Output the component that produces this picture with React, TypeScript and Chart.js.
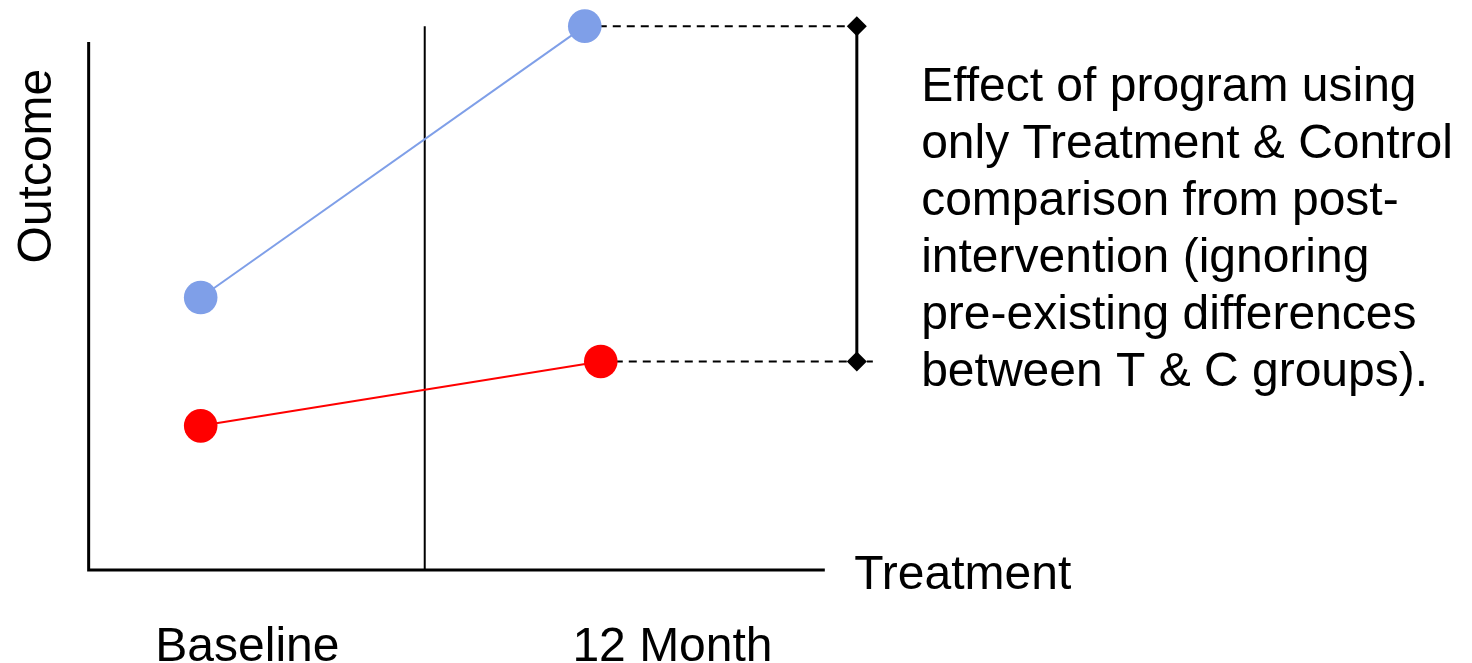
import React, { useEffect, useRef } from "react";
import { Chart, registerables } from "chart.js";

Chart.register(...registerables);

// ---- data ----
const CATEGORIES = ["Baseline", "12 Month"];
const CATEGORY_LABEL_X = [1.46, 14.74];
const TREATMENT_X = [0, 12];
const TREATMENT_Y = [5.16, 10.3];
const CONTROL_X = [0, 12.5];
const CONTROL_Y = [2.73, 3.95];
const Y_TITLE = "Outcome";
const X_TITLE = "Treatment";
const NOTE_LINES = [
  "Effect of program using",
  "only Treatment & Control",
  "comparison from post-",
  "intervention (ignoring",
  "pre-existing differences",
  "between T & C groups).",
];

// ---- layout (data units) ----
const X_MIN = -6.27;
const X_MAX = 39.72;
const Y_MIN = -1.761;
const Y_MAX = 10.795;
const AXIS_X = -3.5;
const AXIS_X_END = 19.5;
const AXIS_Y_TOP = 10;
const DIVIDER_X = 7;
const BRACKET_X = 20.5;
const BLUE_DASH_END = 20.5;
const RED_DASH_END = 21.0;

const FONT = '"Liberation Sans", Arial, Helvetica, sans-serif';
const BLUE = "#7f9fe8";
const RED = "#ff0000";

const textPlugin = {
  id: "textLabels",
  afterDraw(chart: any) {
    const ctx = chart.ctx;
    const xs = chart.scales.x;
    const ys = chart.scales.y;
    const px = (v: number) => xs.getPixelForValue(v);
    const py = (v: number) => ys.getPixelForValue(v);
    const drawText = (t: string, x: number, y: number, align: string) => {
      ctx.textAlign = align;
      ctx.textBaseline = "alphabetic";
      ctx.fillText(t, x, y);
    };
    ctx.save();
    ctx.fillStyle = "#000";
    ctx.font = `48px ${FONT}`;
    CATEGORIES.forEach((c, i) => drawText(c, px(CATEGORY_LABEL_X[i]), py(-1.72), "center"));
    drawText(X_TITLE, px(20.42), py(-0.36), "left");
    const y0 = py(8.883);
    NOTE_LINES.forEach((l, i) => drawText(l, px(22.51), y0 + i * 57, "left"));
    ctx.save();
    ctx.font = `48px ${FONT}`;
    ctx.translate(px(-4.68), py(7.65));
    ctx.rotate(-Math.PI / 2);
    ctx.textAlign = "center";
    ctx.textBaseline = "alphabetic";
    ctx.fillText(Y_TITLE, 0, 0);
    ctx.restore();
    ctx.restore();
  },
};

function pts(xs: number[], ys: number[]) {
  return xs.map((x, i) => ({ x, y: ys[i] }));
}

export default function App() {
  const ref = useRef<HTMLCanvasElement | null>(null);
  useEffect(() => {
    if (!ref.current) return;
    const line = (data: any[], color: string, width: number, extra: any = {}) => ({
      data,
      showLine: true,
      borderColor: color,
      backgroundColor: color,
      borderWidth: width,
      pointRadius: 0,
      pointHoverRadius: 0,
      tension: 0,
      clip: false,
      ...extra,
    });
    const chart = new Chart(ref.current, {
      type: "scatter",
      data: {
        datasets: [
          line(pts(TREATMENT_X, TREATMENT_Y), BLUE, 2, {
            label: "Treatment",
            pointRadius: 16.8,
            pointBorderWidth: 0,
            pointBackgroundColor: BLUE,
          }),
          line(pts(CONTROL_X, CONTROL_Y), RED, 2, {
            label: "Control",
            pointRadius: 16.8,
            pointBorderWidth: 0,
            pointBackgroundColor: RED,
          }),
          line(
            [
              { x: BRACKET_X, y: CONTROL_Y[1] },
              { x: BRACKET_X, y: TREATMENT_Y[1] },
            ],
            "#000",
            3,
            { label: "Effect", pointStyle: "rectRot", pointRadius: 10, pointBorderWidth: 0, pointBackgroundColor: "#000" }
          ),
          line(
            [
              { x: TREATMENT_X[1], y: TREATMENT_Y[1] },
              { x: BLUE_DASH_END, y: TREATMENT_Y[1] },
            ],
            "#000",
            2,
            { label: "T ref", borderDash: [8, 6] }
          ),
          line(
            [
              { x: CONTROL_X[1], y: CONTROL_Y[1] },
              { x: RED_DASH_END, y: CONTROL_Y[1] },
            ],
            "#000",
            2,
            { label: "C ref", borderDash: [8, 6] }
          ),
          line(
            [
              { x: DIVIDER_X, y: 0 },
              { x: DIVIDER_X, y: TREATMENT_Y[1] },
            ],
            "#000",
            2,
            { label: "divider" }
          ),
          line(
            [
              { x: AXIS_X, y: AXIS_Y_TOP },
              { x: AXIS_X, y: 0 },
              { x: AXIS_X_END, y: 0 },
            ],
            "#000",
            3,
            { label: "axes" }
          ),
        ],
      },
      options: {
        animation: false,
        responsive: false,
        devicePixelRatio: 1,
        layout: { padding: 0, autoPadding: false },
        plugins: { legend: { display: false }, tooltip: { enabled: false } },
        events: [],
        scales: {
          x: { type: "linear", min: X_MIN, max: X_MAX, display: false },
          y: { type: "linear", min: Y_MIN, max: Y_MAX, display: false },
        },
      },
      plugins: [textPlugin],
    });
    return () => chart.destroy();
  }, []);
  return (
    <div style={{ position: "absolute", left: 0, top: 0, width: 1472, height: 663, background: "#fff" }}>
      <canvas ref={ref} width={1472} height={663} style={{ display: "block" }} />
    </div>
  );
}
